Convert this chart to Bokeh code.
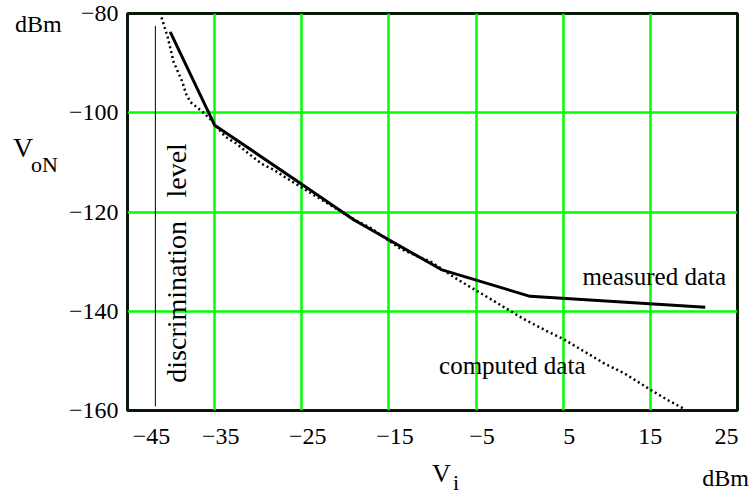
import math
from bokeh.plotting import figure
from bokeh.models import Range1d, FixedTicker, Label, Div
from bokeh.layouts import row, column
from bokeh.embed import file_html
from bokeh.resources import INLINE

# ---- data ----
measured_x = [-40.1, -35.0, -25.0, -19.0, -9.0, 1.2, 21.3]
measured_y = [-83.7, -102.5, -114.4, -121.6, -131.6, -137.0, -139.2]

computed_x = [-41.1, -40.4, -39.7, -38.7, -38.3, -37.8, -36.2, -35.5, -33.8, -32.6,
              -30.9, -29.6, -28.2, -26.9, -24.6, -23.7, -18.8, -17.2, -13.6, -10.1,
              -7.4, -5.3, -2.8, -1.2, 0.4, 2.9, 5.0, 7.6, 9.7, 12.0, 15.0, 16.9, 18.8]
computed_y = [-80.8, -84.7, -89.8, -93.8, -96.1, -97.8, -100.1, -101.3, -104.8, -106.1,
              -108.5, -110.3, -111.5, -113.0, -115.5, -116.5, -121.7, -123.1, -127.5, -130.1,
              -133.3, -135.5, -138.1, -139.8, -141.5, -143.8, -145.6, -148.3, -150.5, -152.5,
              -155.8, -157.8, -159.6]

discrim_x = [-41.8, -41.8]
discrim_y = [-82.5, -159.2]

x_ticks = [-45, -35, -25, -15, -5, 5, 15, 25]
y_ticks = [-160, -140, -120, -100, -80]
MINUS = "\u2212"
x_tick_labels = ["\u2003\u2003" + MINUS + "45", "\u2002" + MINUS + "35", "\u2002" + MINUS + "25",
                 "\u2002" + MINUS + "15", "\u2002" + MINUS + "5", "\u2002" + "5", "15", "25\u2002"]
y_tick_labels = [MINUS + "160", MINUS + "140", MINUS + "120", MINUS + "100", MINUS + "80"]

FONT = "Liberation Serif"
GREEN = "#00ff00"

LEFT_W, TOP_H, FULL_W, BOTTOM_H = 62, 452, 750, 42

# ---- main chart ----
p = figure(width=FULL_W - LEFT_W, height=TOP_H, x_range=Range1d(-45, 25), y_range=Range1d(-160, -80),
           output_backend="svg", toolbar_location=None,
           min_border_left=65, min_border_right=13, min_border_top=13, min_border_bottom=42)

p.background_fill_color = "white"
p.border_fill_color = "white"
p.outline_line_color = "#0a1a0a"
p.outline_line_width = 3

p.xaxis.ticker = FixedTicker(ticks=x_ticks)
p.yaxis.ticker = FixedTicker(ticks=y_ticks)
p.xaxis.major_label_overrides = dict(zip(x_ticks, x_tick_labels))
p.yaxis.major_label_overrides = dict(zip(y_ticks, y_tick_labels))

for ax in (p.xaxis, p.yaxis):
    ax.axis_line_color = None
    ax.major_tick_line_color = None
    ax.minor_tick_line_color = None
    ax.major_tick_out = 0
    ax.major_tick_in = 0
    ax.minor_tick_out = 0
    ax.minor_tick_in = 0
    ax.major_label_text_font = FONT
    ax.major_label_text_font_size = "24px"
    ax.major_label_text_color = "black"
p.xaxis.major_label_standoff = 12
p.yaxis.major_label_standoff = 9

for g in (p.xgrid, p.ygrid):
    g.grid_line_color = GREEN
    g.grid_line_width = 2.5
    g.grid_line_alpha = 1.0

p.line(discrim_x, discrim_y, line_color="black", line_width=1)
p.line(computed_x, computed_y, line_color="black", line_width=2.5, line_dash="2 3")
p.line(measured_x, measured_y, line_color="black", line_width=3)

def lab(fig, x, y, text, size, align="left", angle=0.0):
    fig.add_layout(Label(x=x, y=y, text=text, text_font=FONT, text_font_size=size,
                         text_align=align, text_baseline="alphabetic", angle=angle,
                         text_color="black"))

lab(p, 7.2, -132.9, "measured data", "25px")
lab(p, -9.25, -151.0, "computed data", "25px")
lab(p, -39.4, -138.1, "discrimination", "28px", align="center", angle=math.pi / 2)
lab(p, -39.4, -111.6, "level", "28px", align="center", angle=math.pi / 2)

# ---- axis titles / units outside the frame, as HTML text blocks ----
def span(text, size, left=None, right=None, top=0):
    pos = f"left:{left}px;" if left is not None else f"right:{right}px;"
    return (f'<span style="position:absolute;{pos}top:{top}px;font-size:{size}px;'
            f'line-height:1;white-space:nowrap;">{text}</span>')

def block(w, h, inner):
    return (f'<div style="position:relative;width:{w}px;height:{h}px;overflow:visible;'
            f"font-family:'{FONT}',serif;color:black;\">{inner}</div>")

left_html = block(LEFT_W, TOP_H,
                  span("dBm", 24, left=15, top=12) +
                  span("V", 28, left=13, top=134) +
                  span("oN", 22, left=31, top=154))
bottom_html = block(FULL_W, BOTTOM_H,
                    span("V", 26, left=432, top=9) +
                    span("i", 22, left=453, top=20) +
                    span("dBm", 24, right=1, top=14))

left = Div(text=left_html, width=LEFT_W, height=TOP_H, margin=(0, 0, 0, 0))
bottom = Div(text=bottom_html, width=FULL_W, height=BOTTOM_H, margin=(0, 0, 0, 0))

layout = column(row(left, p), bottom)

open("out.html", "w").write(file_html(layout, INLINE))
